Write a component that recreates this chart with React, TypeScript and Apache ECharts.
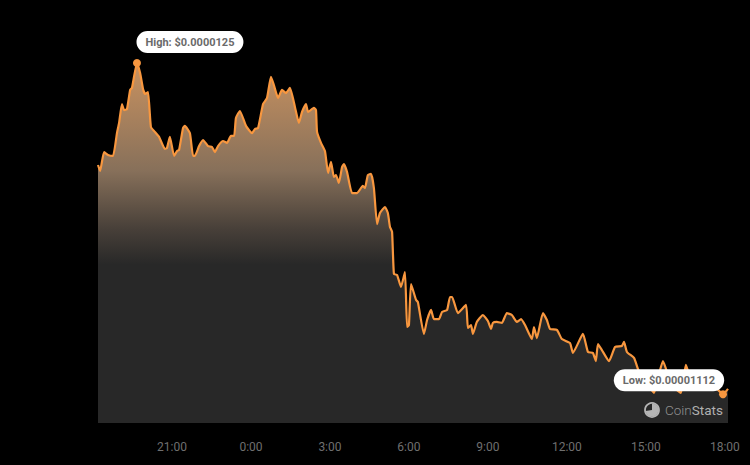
import React, { useEffect, useRef } from "react";
import * as echarts from "echarts";

// Hours counted from 0:00 of the first day (24 = next midnight)
const hours = [18.19,18.27,18.42,18.57,18.76,18.91,18.99,19.10,19.18,19.29,19.41,19.48,19.67,19.79,19.90,19.98,20.09,20.20,20.35,20.51,20.73,20.81,20.92,21.08,21.19,21.27,21.42,21.49,21.68,21.80,21.87,22.03,22.18,22.37,22.52,22.63,22.75,22.94,23.09,23.24,23.36,23.43,23.58,23.81,24.04,24.15,24.27,24.46,24.61,24.76,24.87,25.03,25.18,25.33,25.48,25.67,25.82,25.94,26.09,26.17,26.39,26.47,26.51,26.66,26.81,26.93,27.04,27.15,27.23,27.34,27.46,27.53,27.65,27.84,28.03,28.25,28.33,28.44,28.56,28.67,28.79,28.90,29.09,29.20,29.28,29.36,29.43,29.55,29.70,29.85,29.93,30.00,30.08,30.27,30.34,30.57,30.69,30.84,30.95,31.14,31.26,31.45,31.56,31.64,31.86,32.17,32.24,32.36,32.43,32.58,32.81,33.00,33.12,33.19,33.34,33.53,33.72,33.91,34.10,34.26,34.41,34.67,34.75,34.86,35.09,35.24,35.36,35.62,35.81,36.12,36.23,36.61,36.80,36.99,37.10,37.18,37.33,37.60,37.83,38.09,38.17,38.28,38.55,38.70,38.85,39.08,39.31,39.46,39.65,39.88,40.10,40.33,40.52,40.71,41.05,41.43,41.74,41.93,42.12];

// Price in millionths of a dollar
const prices = [12.075,12.05,12.129,12.117,12.113,12.208,12.25,12.329,12.304,12.308,12.388,12.396,12.5,12.458,12.392,12.371,12.379,12.233,12.213,12.192,12.142,12.146,12.192,12.113,12.133,12.138,12.229,12.238,12.208,12.113,12.113,12.154,12.179,12.154,12.15,12.129,12.154,12.175,12.167,12.196,12.196,12.271,12.3,12.238,12.208,12.225,12.229,12.329,12.354,12.442,12.408,12.354,12.388,12.375,12.396,12.317,12.25,12.296,12.329,12.296,12.313,12.304,12.213,12.167,12.133,12.042,12.088,12.025,12.033,12.0,12.067,12.079,12.046,11.958,11.958,11.988,11.979,12.033,12.038,11.979,11.829,11.875,11.9,11.875,11.817,11.796,11.621,11.617,11.567,11.629,11.4,11.408,11.579,11.513,11.504,11.371,11.429,11.471,11.433,11.433,11.463,11.471,11.525,11.525,11.458,11.492,11.396,11.408,11.371,11.421,11.45,11.425,11.392,11.417,11.421,11.417,11.458,11.45,11.421,11.433,11.408,11.35,11.4,11.354,11.458,11.429,11.392,11.388,11.35,11.333,11.292,11.371,11.296,11.292,11.258,11.329,11.304,11.258,11.317,11.321,11.338,11.296,11.271,11.225,11.192,11.158,11.125,11.188,11.258,11.188,11.146,11.125,11.242,11.179,11.154,11.163,11.138,11.12,11.142];

const tickHours = [21, 24, 27, 30, 33, 36, 39, 42];
const tickLabels = ["21:00", "0:00", "3:00", "6:00", "9:00", "12:00", "15:00", "18:00"];
const highLabel = "High: $0.0000125";
const lowLabel = "Low: $0.00001112";
const highPoint = [19.67, 12.5];
const lowPoint = [41.93, 11.12];

const ORANGE = "#f8973f";

const pillLabel = (text: string, offset: number[]) => ({
  show: true,
  formatter: text,
  position: "inside",
  offset,
  backgroundColor: "#ffffff",
  borderRadius: 11,
  padding: [5, 9, 5, 9],
  color: "#6a6a6a",
  fontFamily: "Roboto",
  fontWeight: "bold",
  fontSize: 11,
  lineHeight: 12,
});

export default function App() {
  const ref = useRef<HTMLDivElement>(null);

  useEffect(() => {
    document.body.style.margin = "0";
    document.body.style.background = "#000";
    const chart = echarts.init(ref.current!, undefined, { renderer: "svg" });
    chart.setOption({
      animation: false,
      backgroundColor: "#000000",
      grid: { left: 98, right: 22, top: 63, bottom: 42 },
      xAxis: {
        type: "value",
        min: 18.19,
        max: 42.12,
        splitLine: { show: false },
        axisLine: { show: false },
        axisTick: { show: false },
        axisLabel: {
          customValues: tickHours,
          formatter: (v: number) => tickLabels[tickHours.indexOf(v)] ?? "",
          color: "#6f6f6f",
          fontFamily: "Roboto",
          fontSize: 12,
          margin: 18,
          hideOverlap: false,
          showMinLabel: true,
          showMaxLabel: true,
        },
      },
      yAxis: { type: "value", min: 11, max: 12.5, show: false },
      series: [
        {
          type: "line",
          data: hours.map((h, i) => [h, prices[i]]),
          showSymbol: false,
          symbol: "none",
          clip: false,
          smooth: 0.15,
          lineStyle: { color: ORANGE, width: 2.2, join: "round" },
          areaStyle: {
            opacity: 1,
            color: {
              type: "linear",
              x: 0,
              y: 0,
              x2: 0,
              y2: 1,
              colorStops: [
                { offset: 0, color: "#c99260" },
                { offset: 0.3, color: "#87705a" },
                { offset: 0.46, color: "#484039" },
                { offset: 0.56, color: "#282828" },
                { offset: 1, color: "#282828" },
              ],
            },
          },
          markPoint: {
            animation: false,
            symbol: "circle",
            symbolSize: 8,
            itemStyle: { color: ORANGE },
            data: [
              { coord: highPoint, label: pillLabel(highLabel, [53, -21]) },
              { coord: lowPoint, label: pillLabel(lowLabel, [-54, -14]) },
            ],
          },
        },
      ],
      graphic: [
        { type: "circle", z: 100, silent: true, shape: { cx: 652, cy: 410, r: 7 }, style: { fill: "none", stroke: "#b5b5b5", lineWidth: 1.8 } },
        { type: "sector", z: 100, silent: true, shape: { cx: 652, cy: 410, r: 6.5, r0: 0, startAngle: -Math.PI / 2, endAngle: Math.PI * 0.95 }, style: { fill: "#b5b5b5" } },
        {
          type: "text",
          z: 100,
          silent: true,
          x: 665,
          y: 410,
          style: {
            text: "{a|Coin}{b|Stats}",
            verticalAlign: "middle",
            rich: {
              a: { fontFamily: "Roboto", fontWeight: 300, fontSize: 13.5, fill: "#8f8f8f", color: "#8f8f8f" },
              b: { fontFamily: "Roboto", fontWeight: 400, fontSize: 13.5, fill: "#b0b0b0", color: "#b0b0b0" },
            },
          },
        },
      ],
    });
    return () => chart.dispose();
  }, []);

  return <div ref={ref} style={{ position: "absolute", left: 0, top: 0, width: 750, height: 465 }} />;
}
